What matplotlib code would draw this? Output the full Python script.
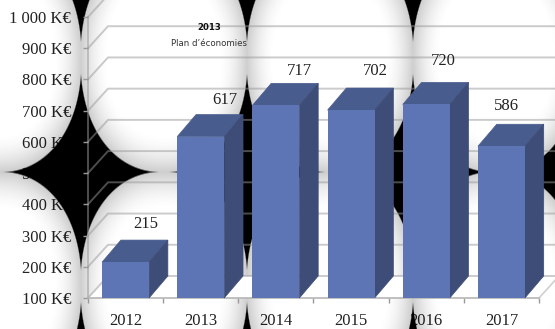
import numpy as np
import matplotlib
matplotlib.use("Agg")
import matplotlib.pyplot as plt
from matplotlib.patches import Polygon

# chart values
years = ["2012", "2013", "2014", "2015", "2016", "2017"]
savings = [215, 617, 717, 702, 720, 586]
levels = [100, 200, 300, 400, 500, 600, 700, 800, 900, 1000]
level_labels = ["100 K€", "200 K€", "300 K€", "400 K€", "500 K€", "600 K€",
                "700 K€", "800 K€", "900 K€", "1 000 K€"]

W, H = 555, 329
SERIF = "Liberation Serif"

# 3d look: how far the back wall and the bar tops are shifted
DX, DY = 0.266, 70.5
BAR_W = 0.625
FRONT, TOP, SIDE = "#5d75b5", "#495c8e", "#3e4d77"
GRID = "#999999"

# hand placed value labels, pixels from the bar centre and its back top edge
label_offset = [(20, 16), (24, 15), (24, 12.5), (24, 17.5), (17, 21), (5, 18)]

fig = plt.figure(figsize=(W / 100, H / 100), dpi=100, facecolor="white")
rect = [88 / W, (H - 298) / H, 451 / W, 281 / H]

# bottom layer: only the tick labels
base = fig.add_axes(rect, zorder=1)
base.set_facecolor("none")
base.set_xlim(-0.5, 5.5)
base.set_ylim(100, 1000)
base.set_xticks(range(len(years)), years, fontfamily=SERIF, fontsize=12, color="#222222")
base.set_yticks(levels, level_labels, fontfamily=SERIF, fontsize=12, color="#222222")
base.tick_params(axis="x", length=0, pad=11)
base.tick_params(axis="y", length=0, pad=12)
for s in base.spines.values():
    s.set_visible(False)

# middle layer: tiled spotlights, shaded towards the rim, black between them
yy, xx = np.mgrid[0:H, 0:W] + 0.5
r = np.full(xx.shape, 9.0)
for cx in [-2, 164, 330, 496, 662]:
    for cy in [58, 286]:
        d = (np.abs(xx - cx) / 83.6) ** 2.2 + (np.abs(yy - cy) / 114.4) ** 2.2
        r = np.minimum(r, d ** (1 / 2.2))
edge = np.clip((r - 1) * 70 + 0.5, 0, 1)
shade = 0.2 * np.clip((r - 0.65) / 0.35, 0, 1) ** 1.8
rgba = np.zeros((H, W, 4))
rgba[..., 3] = shade + (1 - shade) * edge
over = fig.add_axes([0, 0, 1, 1], zorder=2)
over.imshow(rgba, extent=(0, W, H, 0), aspect="auto", interpolation="nearest")
over.axis("off")

# top layer: walls, floor, bars and labels
ax = fig.add_axes(rect, zorder=3)
ax.set_facecolor("none")
ax.set_xlim(-0.5, 5.5)
ax.set_ylim(100, 1000)
ax.set_xticks(np.arange(-0.5, 6, 1))
ax.set_yticks(levels)
ax.tick_params(labelleft=False, labelbottom=False, length=3.6, width=1, color="#9a9a9a")
for side in ["top", "right"]:
    ax.spines[side].set_visible(False)
ax.spines["left"].set_color("#999999")
ax.spines["left"].set_alpha(0.6)
ax.spines["bottom"].set_color("#b5b5b5")
for side in ["left", "bottom"]:
    ax.spines[side].set_linewidth(1.2)

x0, x1 = -0.5, 5.5
ax.add_patch(Polygon([(x0, 100), (x1, 100), (x1 + DX, 100 + DY), (x0 + DX, 100 + DY)],
                     fc="white", ec="none", clip_on=False, zorder=1))
for v in levels:
    ax.plot([x0, x0 + DX, x1 + DX], [v, v + DY, v + DY], color=GRID, alpha=0.5,
            lw=1.4, clip_on=False, zorder=2)
ax.plot([x1, x1 + DX], [100, 100 + DY], color="#d0d0d0", lw=1.2, clip_on=False, zorder=2)

bdx, bdy = 0.25, 70.5
for i, v in enumerate(savings):
    l, rr = i - BAR_W / 2, i + BAR_W / 2
    # edge in the face colour so no black shows along the seams
    ax.add_patch(Polygon([(l, v), (rr, v), (rr + bdx, v + bdy), (l + bdx, v + bdy)], fc=TOP,
                         ec=TOP, lw=0.5, clip_on=False, zorder=4))
    ax.add_patch(Polygon([(rr, 100), (rr + bdx, 100 + bdy), (rr + bdx, v + bdy), (rr, v)], fc=SIDE,
                         ec=SIDE, lw=0.5, clip_on=False, zorder=4))
    ax.add_patch(Polygon([(l, 100), (rr, 100), (rr, v), (l, v)], fc=FRONT, ec="none",
                         clip_on=False, zorder=4))
    ox, oy = label_offset[i]
    ax.annotate(str(v), (i, v + bdy), xytext=(ox * 0.72, oy * 0.72),
                textcoords="offset points", ha="center", va="center",
                fontfamily=SERIF, fontsize=12, color="#222222", zorder=5)

# note above the chart
fig.text(209 / W, 1 - 28 / H, "2013", fontsize=6.2, fontweight="bold", ha="center", va="center",
         color="#111111", zorder=5)
fig.text(209 / W, 1 - 43 / H, "Plan d’économies", fontsize=6.2, ha="center", va="center",
         color="#333333", zorder=5)

fig.savefig("out.png", dpi=100)
